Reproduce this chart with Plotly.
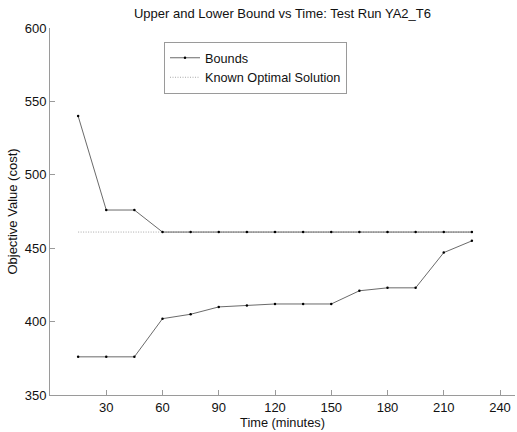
import plotly.graph_objects as go

time_min = [15, 30, 45, 60, 75, 90, 105, 120, 135, 150, 165, 180, 195, 210, 225]
upper_bound = [540, 476, 476, 461, 461, 461, 461, 461, 461, 461, 461, 461, 461, 461, 461]
lower_bound = [376, 376, 376, 402, 405, 410, 411, 412, 412, 412, 421, 423, 423, 447, 455]
optimal_value = [461] * len(time_min)

x_ticks = [30, 60, 90, 120, 150, 180, 210, 240]
y_ticks = [350, 400, 450, 500, 550, 600]

font = "Liberation Sans, Arial, sans-serif"
axis_col = "#9a9a9a"
text_col = "#111111"

fig = go.Figure()
fig.add_trace(go.Scatter(
    x=time_min, y=optimal_value, mode="lines", name="Known Optimal Solution",
    line=dict(color="#a8a8a8", width=1, dash="1px,1.5px"),
))
fig.add_trace(go.Scatter(
    x=time_min, y=upper_bound, mode="lines+markers", name="Bounds",
    line=dict(color="#2a2a2a", width=0.7),
    marker=dict(color="#000000", size=2.5, symbol="circle"),
))
fig.add_trace(go.Scatter(
    x=time_min, y=lower_bound, mode="lines+markers", name="Bounds", showlegend=False,
    line=dict(color="#2a2a2a", width=0.7),
    marker=dict(color="#000000", size=2.5, symbol="circle"),
))

fig.update_layout(
    width=517, height=432,
    margin=dict(l=50, r=2, t=28, b=37),
    paper_bgcolor="white", plot_bgcolor="white",
    font=dict(family=font, size=13, color=text_col),
    title=dict(text="Upper and Lower Bound vs Time: Test Run YA2_T6",
               x=(50 + 515) / 2 / 517, xanchor="center", y=1 - 13 / 432, yanchor="middle",
               font=dict(size=13, family=font, color=text_col)),
    showlegend=True,
    legend=dict(x=(164 - 50) / 465, y=(395 - 42) / 367, xanchor="left", yanchor="top",
                bgcolor="white", bordercolor=axis_col, borderwidth=1,
                font=dict(size=12.7, family=font, color=text_col), traceorder="reversed",
                itemwidth=30, tracegroupgap=0),
    xaxis=dict(range=[0, 248], tickvals=x_ticks, ticks="inside", ticklen=5,
               tickcolor=axis_col, showline=True, linecolor=axis_col, linewidth=1,
               showgrid=False, zeroline=False, tickfont=dict(size=13),
               title=dict(text="Time (minutes)", standoff=2, font=dict(size=12.8))),
    yaxis=dict(range=[350, 600], tickvals=y_ticks, ticks="inside", ticklen=5,
               tickcolor=axis_col, showline=True, linecolor=axis_col, linewidth=1,
               showgrid=False, zeroline=False, tickfont=dict(size=13),
               title=dict(text="Objective Value (cost)", standoff=4, font=dict(size=13))),
)

fig.write_html("out.html")
